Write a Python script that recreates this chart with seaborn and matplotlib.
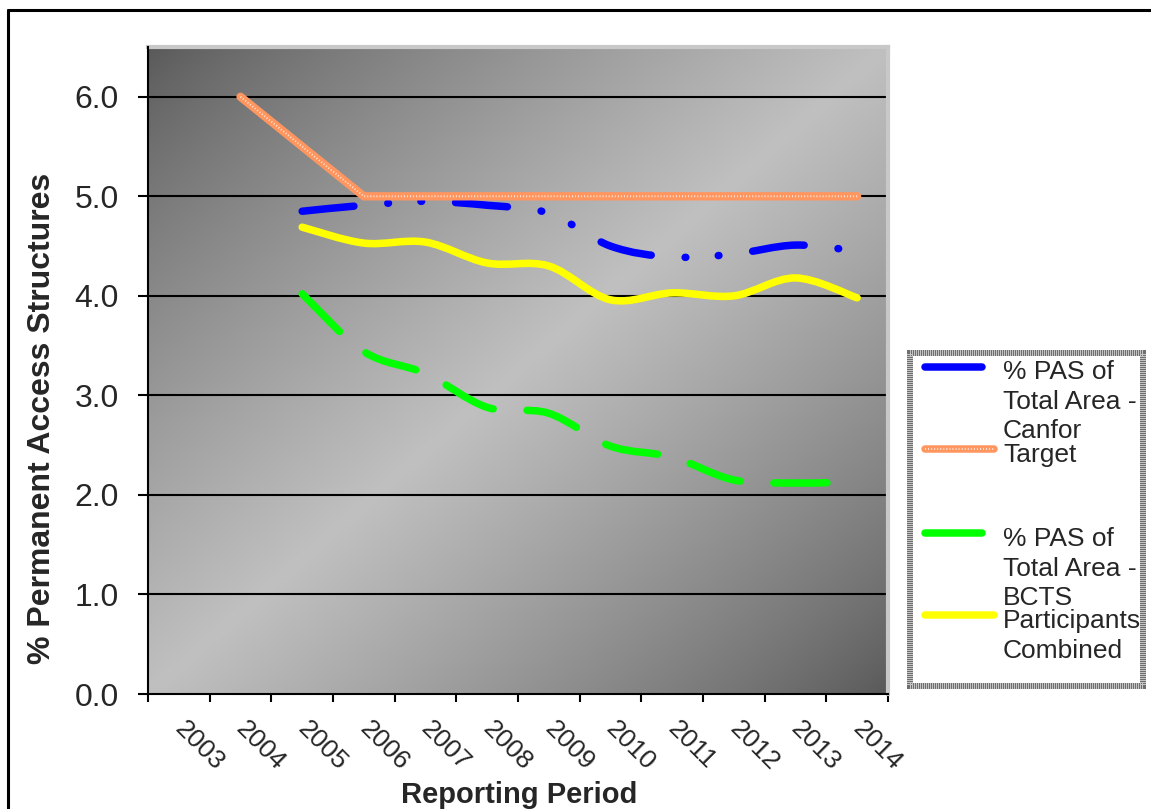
import numpy as np
import matplotlib
matplotlib.use("Agg")
import matplotlib.pyplot as plt
import seaborn as sns
import pandas as pd
from matplotlib.path import Path
from matplotlib.patches import PathPatch, Rectangle
from matplotlib.lines import Line2D
from matplotlib.transforms import ScaledTranslation

# ---------------- data ----------------
years = ["2003", "2004", "2005", "2006", "2007", "2008", "2009",
         "2010", "2011", "2012", "2013", "2014"]
target_years = years[1:]
target = [6.0, 5.5, 5.0, 5.0, 5.0, 5.0, 5.0, 5.0, 5.0, 5.0, 5.0]
series_years = years[2:]
canfor = [4.85, 4.91, 4.95, 4.91, 4.83, 4.50, 4.39, 4.42, 4.51, 4.45]
bcts = [4.02, 3.44, 3.22, 2.88, 2.82, 2.49, 2.38, 2.15, 2.12, 2.13]
combined = [4.69, 4.53, 4.54, 4.33, 4.30, 3.96, 4.03, 4.00, 4.18, 3.98]
y_ticks = [0.0, 1.0, 2.0, 3.0, 4.0, 5.0, 6.0]
legend_labels = ["% PAS of\nTotal Area -\nCanfor", "Target",
                 "% PAS of\nTotal Area -\nBCTS", "Participants\nCombined"]

# ---------------- style ----------------
sns.set_style("white")
plt.rcParams["font.family"] = ["Liberation Sans", "DejaVu Sans"]
plt.rcParams["lines.scale_dashes"] = False

W, H = 1151, 809
fig = plt.figure(figsize=(W / 100, H / 100), dpi=100)
fig.patch.set_facecolor("white")

def fx(x):
    return x / W

def fy(y):
    return 1 - y / H

ax = fig.add_axes([fx(148), fy(694), fx(888) - fx(148), fy(47) - fy(694)])

# gradient background
nx, ny = 400, 400
u = np.linspace(0, 1, nx)[None, :]
v = np.linspace(0, 1, ny)[:, None]  # 0 at top
t = (u + v) / 2.0
tri = 1 - np.abs(2 * t - 1)
dark, light = 0x58 / 255, 0xc0 / 255
g = dark + (light - dark) * tri ** 0.8
img = np.dstack([g, g, g])
ax.imshow(img, extent=[0, 1, 0, 1], transform=ax.transAxes, aspect="auto",
          zorder=0, origin="upper", interpolation="bilinear")

cat_pos = {y: i for i, y in enumerate(years)}

def smooth_path(xs, ys):
    pts = np.column_stack([xs, ys]).astype(float)
    n = len(pts)
    verts = [pts[0]]
    codes = [Path.MOVETO]
    for i in range(n - 1):
        p0 = pts[i - 1] if i > 0 else pts[i]
        p1 = pts[i]
        p2 = pts[i + 1]
        p3 = pts[i + 2] if i + 2 < n else pts[i + 1]
        c1 = p1 + (p2 - p0) / 6.0
        c2 = p2 - (p3 - p1) / 6.0
        verts += [c1, c2, p2]
        codes += [Path.CURVE4] * 3
    return Path(verts, codes)

px2pt = 0.72
lw_line = 7.5 * px2pt

# Combined (yellow) solid smoothed
xs = [cat_pos[y] for y in series_years]
ax.add_patch(PathPatch(smooth_path(xs, combined), fill=False, edgecolor="#FFFF00",
                       lw=lw_line, capstyle="round", joinstyle="round", zorder=3))
# BCTS (green) long dash
ax.add_patch(PathPatch(smooth_path(xs, bcts), fill=False, edgecolor="#00FF00",
                       lw=lw_line, capstyle="round", joinstyle="round", zorder=3,
                       linestyle=(0, (53 * px2pt, 34 * px2pt))))
# Canfor (blue) long dash dot dot
ax.add_patch(PathPatch(smooth_path(xs, canfor), fill=False, edgecolor="#0000FF",
                       lw=lw_line, capstyle="round", joinstyle="round", zorder=3,
                       linestyle=(0, (52 * px2pt, 34 * px2pt, 0.5, 32.5 * px2pt,
                                      0.5, 34 * px2pt))))

# Target (textured orange) via seaborn
df_t = pd.DataFrame({"x": [cat_pos[y] for y in target_years], "y": target})
sns.lineplot(data=df_t, x="x", y="y", ax=ax, color="#FF965F", lw=6.0,
             solid_capstyle="round", zorder=4, legend=False)
sns.lineplot(data=df_t, x="x", y="y", ax=ax, color="white", lw=1.4,
             dashes=[(0.7, 1.5)], style=np.zeros(len(df_t)), zorder=5,
             legend=False, alpha=0.8)

# axes
ax.set_xlim(-0.5, len(years) - 0.5)
ax.set_ylim(0, 6.5)
ax.set_yticks(y_ticks)
ax.set_yticklabels([f"{v:.1f}" for v in y_ticks], fontsize=23)
ax.set_xticks(range(len(years)))
ax.set_xticklabels(years, fontsize=19, rotation=-45, ha="left", va="top")
ax.set_xticks(np.arange(-0.5, len(years), 1.0), minor=True)
ax.tick_params(axis="x", which="major", length=0, pad=16.5)
ax.tick_params(axis="x", which="minor", length=6, width=1.5, color="black",
               direction="out", bottom=True)
ax.tick_params(axis="y", which="major", length=7, width=1.5, color="black",
               direction="out", pad=14, left=True)
for lab in ax.get_xticklabels():
    lab.set_transform(lab.get_transform() + ScaledTranslation(-9 / 100, 0, fig.dpi_scale_trans))
ax.set_xlabel("")
ax.set_ylabel("")
for yv in y_ticks[1:]:
    ax.axhline(yv, color="black", lw=1.5, zorder=1)
for s in ["left", "bottom"]:
    ax.spines[s].set_color("black")
    ax.spines[s].set_linewidth(1.5)
    ax.spines[s].set_zorder(6)
for s in ["top", "right"]:
    ax.spines[s].set_color("#c8c8c8")
    ax.spines[s].set_linewidth(3)

# axis titles
fig.text(fx(42), fy(418), "% Permanent Access Structures", rotation=90,
         fontsize=23, fontweight="bold", ha="center", va="center")
fig.text(fx(519), fy(795), "Reporting Period", fontsize=21, fontweight="bold",
         ha="center", va="center")

# outer chart frame (top & left visible)
fig.add_artist(Line2D([fx(8), 1.0], [fy(10), fy(10)], color="black", lw=2.2))
fig.add_artist(Line2D([fx(8), fx(8)], [fy(10), 0.0], color="black", lw=2.2))

# legend (manual)
lg = Rectangle((fx(910), fy(686)), fx(1143) - fx(910), fy(353) - fy(686),
               transform=fig.transFigure, facecolor="white", edgecolor="#6e6e6e",
               lw=4.3, zorder=1)
fig.add_artist(lg)
lg2 = Rectangle((fx(910), fy(686)), fx(1143) - fx(910), fy(353) - fy(686),
                transform=fig.transFigure, facecolor="none", edgecolor="#c4c4c4",
                lw=4.3, linestyle=(0, (0.72, 0.72)), zorder=2)
fig.add_artist(lg2)

handle_y = [367, 449, 533, 615]
handle_x1 = [985, 997, 985, 997]
colors = ["#0000FF", "#FF965F", "#00FF00", "#FFFF00"]
text_first = [374, 457, 541, 623]
for i in range(4):
    fig.add_artist(Line2D([fx(925), fx(handle_x1[i] - 3)], [fy(handle_y[i])] * 2,
                          color=colors[i], lw=lw_line, solid_capstyle="round", zorder=3))
    if i == 1:
        fig.add_artist(Line2D([fx(925), fx(handle_x1[i] - 3)], [fy(handle_y[i])] * 2,
                              color="white", lw=1.4, linestyle=(0, (0.7, 1.5)),
                              alpha=0.8, zorder=4))
    fig.text(fx(1003), fy(text_first[i] - 14), legend_labels[i], fontsize=19,
             ha="left", va="top", linespacing=1.3, zorder=5)

fig.savefig("out.png", dpi=100, facecolor="white")
